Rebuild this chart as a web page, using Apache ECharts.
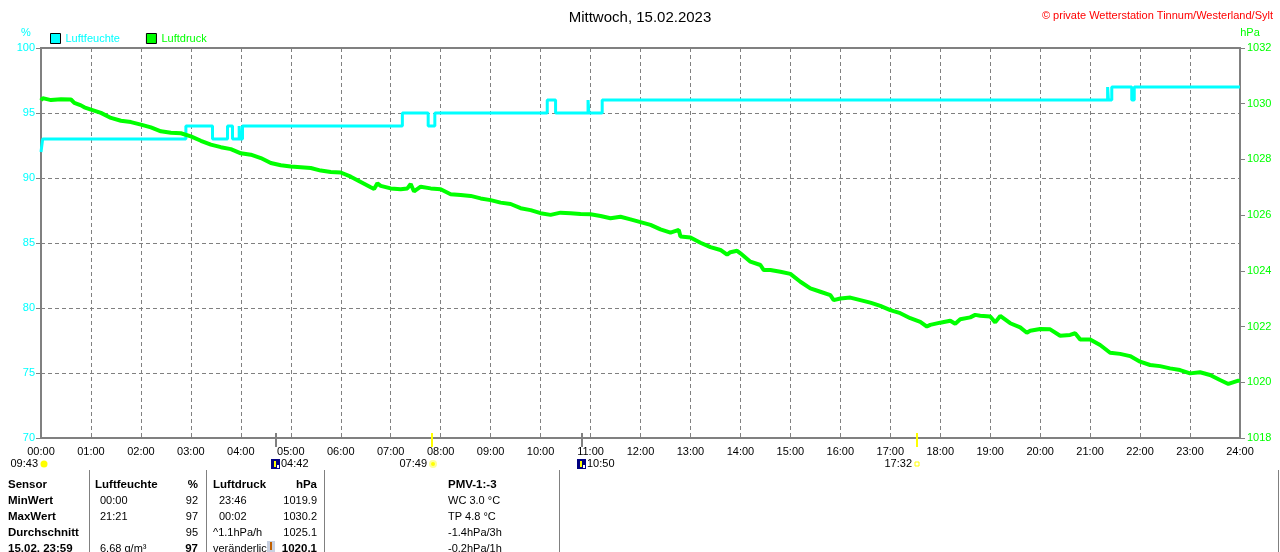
<!DOCTYPE html>
<html>
<head>
<meta charset="utf-8">
<script src="https://cdn.jsdelivr.net/npm/echarts@6/dist/echarts.min.js"></script>
<style>
    html, body { margin: 0; padding: 0; background: #fff; }
    #chart { width: 1280px; height: 552px; }
</style>
</head>
<body>
<div id="chart"></div>
<script>

    // Zeitachse (Minuten seit 00:00) und Beschriftung
    var hourLabels = [
        '00:00', '01:00', '02:00', '03:00', '04:00', '05:00', '06:00', '07:00',
        '08:00', '09:00', '10:00', '11:00', '12:00', '13:00', '14:00', '15:00',
        '16:00', '17:00', '18:00', '19:00', '20:00', '21:00', '22:00', '23:00', '24:00'
    ];

    // Luftfeuchte (%), Stufenverlauf: Wert gilt bis zum naechsten Zeitpunkt
    var humidityMinutes = [0, 2, 174, 206, 224, 230, 238, 239, 242, 434, 465, 473,
        608, 618, 657, 658, 674, 1281, 1282, 1286, 1310, 1313, 1440];
    var humidityValues = [92, 93, 94, 93, 94, 93, 94, 93, 94, 95, 94, 95,
        96, 95, 96, 95, 96, 97, 96, 97, 96, 97, 97];

    // Luftdruck (hPa)
    var pressureMinutes = [
        0, 2, 12, 24, 36, 40, 48, 52, 60, 72, 84, 96, 108, 120, 132, 144, 156, 168,
        180, 192, 204, 216, 228, 240, 252, 264, 276, 288, 300, 312, 324, 336, 348,
        360, 372, 384, 396, 400, 404, 408, 420, 432, 440, 444, 448, 456, 468, 480,
        492, 504, 516, 528, 540, 552, 564, 576, 588, 600, 612, 624, 636, 648, 660,
        672, 684, 696, 708, 720, 732, 744, 756, 766, 768, 780, 792, 804, 816, 824,
        828, 836, 840, 852, 864, 868, 876, 888, 900, 912, 924, 936, 948, 952, 960,
        972, 984, 996, 1008, 1020, 1032, 1044, 1056, 1064, 1068, 1080, 1092, 1098,
        1104, 1116, 1122, 1128, 1140, 1146, 1152, 1164, 1176, 1184, 1188, 1200,
        1212, 1224, 1236, 1242, 1248, 1260, 1272, 1284, 1296, 1308, 1320, 1332,
        1344, 1356, 1368, 1380, 1392, 1404, 1416, 1426, 1428, 1438, 1440
    ];
    var pressureValues = [
        1030.12, 1030.20, 1030.13, 1030.16, 1030.15, 1030.03, 1029.94, 1029.87,
        1029.79, 1029.67, 1029.49, 1029.39, 1029.34, 1029.25, 1029.15, 1029.01,
        1028.96, 1028.94, 1028.83, 1028.67, 1028.53, 1028.44, 1028.37, 1028.22,
        1028.17, 1028.05, 1027.87, 1027.79, 1027.75, 1027.72, 1027.69, 1027.60,
        1027.55, 1027.53, 1027.38, 1027.19, 1027.00, 1026.94, 1027.14, 1027.05,
        1026.96, 1026.93, 1026.96, 1027.12, 1026.85, 1027.02, 1026.96, 1026.93,
        1026.75, 1026.72, 1026.69, 1026.60, 1026.54, 1026.45, 1026.40, 1026.25,
        1026.18, 1026.07, 1026.01, 1026.09, 1026.07, 1026.04, 1026.03, 1025.97,
        1025.89, 1025.94, 1025.85, 1025.75, 1025.65, 1025.49, 1025.37, 1025.47,
        1025.23, 1025.20, 1025.01, 1024.85, 1024.75, 1024.58, 1024.67, 1024.72,
        1024.63, 1024.33, 1024.21, 1024.03, 1024.03, 1023.97, 1023.89, 1023.61,
        1023.37, 1023.25, 1023.13, 1022.95, 1023.01, 1023.04, 1022.95, 1022.86,
        1022.74, 1022.59, 1022.48, 1022.30, 1022.17, 1022.00, 1022.06, 1022.14,
        1022.21, 1022.10, 1022.26, 1022.33, 1022.42, 1022.39, 1022.36, 1022.15,
        1022.38, 1022.12, 1021.97, 1021.78, 1021.85, 1021.91, 1021.90, 1021.67,
        1021.70, 1021.76, 1021.54, 1021.54, 1021.34, 1021.06, 1021.02, 1020.94,
        1020.74, 1020.62, 1020.58, 1020.50, 1020.44, 1020.32, 1020.36, 1020.26,
        1020.08, 1019.94, 1019.99, 1020.06, 1020.05
    ];

    // Mond-/Sonnenereignisse unter der Zeitachse
    var eventMinutes = [282, 469, 650, 1052];
    var eventLabels = ['04:42', '07:49', '10:50', '17:32'];
    var eventKinds = ['moonrise', 'sunrise', 'moonset', 'sunset'];

    // Tabelle
    var tableHead = ['Sensor', 'Luftfeuchte', '%', 'Luftdruck', 'hPa', 'PMV-1:-3'];
    var rowLabels = ['MinWert', 'MaxWert', 'Durchschnitt', '15.02. 23:59'];
    var humTimes = ['00:00', '21:21', '', '6.68 g/m\u00b3'];
    var humVals = ['92', '97', '95', '97'];
    var presTimes = ['23:46', '00:02', '^1.1hPa/h', 'ver\u00e4nderlich'];
    var presVals = ['1019.9', '1030.2', '1025.1', '1020.1'];
    var pmvVals = ['WC 3.0 \u00b0C', 'TP 4.8 \u00b0C', '-1.4hPa/3h', '-0.2hPa/1h'];

    var FONT = 'Liberation Sans, Arial, sans-serif';
    var CYAN = '#00ffff';
    var GREEN = '#00ff00';
    var GRAY = '#808080';

    var chart = echarts.init(document.getElementById('chart'));

    function zip(xs, ys) {
        return xs.map(function (x, i) {
            return [x, ys[i]];
        });
    }

    var option = {
        animation: false,
        backgroundColor: '#fff',
        textStyle: {fontFamily: FONT},
        title: [
            {
                text: 'Mittwoch, 15.02.2023',
                left: 'center',
                top: 5,
                textStyle: {fontSize: 15, fontWeight: 'normal', color: '#000', fontFamily: FONT}
            },
            {
                text: '\u00a9 private Wetterstation Tinnum/Westerland/Sylt',
                right: 2,
                top: 5,
                textStyle: {fontSize: 11, fontWeight: 'normal', color: '#ff0000', fontFamily: FONT}
            }
        ],
        legend: {
            left: 45,
            top: 28,
            icon: 'rect',
            itemWidth: 10,
            itemHeight: 10,
            itemGap: 26,
            itemStyle: {borderColor: '#000', borderWidth: 1},
            data: [
                {name: 'Luftfeuchte', textStyle: {color: CYAN, fontSize: 11, fontFamily: FONT}},
                {name: 'Luftdruck', textStyle: {color: GREEN, fontSize: 11, fontFamily: FONT}}
            ]
        },
        grid: {
            left: 41,
            right: 40,
            top: 48,
            bottom: 114,
            show: true,
            borderColor: GRAY,
            borderWidth: 2
        },
        xAxis: {
            type: 'value',
            min: 0,
            max: 1440,
            interval: 60,
            axisLine: {show: true, lineStyle: {color: GRAY, width: 2}},
            axisTick: {show: false},
            axisLabel: {
                color: '#000',
                fontSize: 11,
                fontFamily: FONT,
                margin: 8,
                showMinLabel: true,
                showMaxLabel: true,
                formatter: function (v) {
                    return hourLabels[Math.round(v / 60)];
                }
            },
            splitLine: {show: true, lineStyle: {color: GRAY, type: [4, 3], width: 1}}
        },
        yAxis: [
            {
                type: 'value',
                position: 'left',
                min: 70,
                max: 100,
                interval: 5,
                axisLine: {show: true, lineStyle: {color: GRAY, width: 2}},
                axisTick: {show: true, length: 5, lineStyle: {color: GRAY}},
                axisLabel: {color: CYAN, fontSize: 11, fontFamily: FONT, margin: 6},
                splitLine: {show: true, lineStyle: {color: GRAY, type: [4, 3], width: 1}}
            },
            {
                type: 'value',
                position: 'right',
                min: 1018,
                max: 1032,
                interval: 2,
                axisLine: {show: true, lineStyle: {color: GRAY, width: 2}},
                axisTick: {show: true, length: 5, lineStyle: {color: GRAY}},
                axisLabel: {
                    color: GREEN,
                    fontSize: 11,
                    fontFamily: FONT,
                    margin: 7,
                    formatter: function (v) {
                        return String(v);
                    }
                },
                splitLine: {show: false}
            }
        ],
        series: [
            {
                name: 'Luftfeuchte',
                type: 'line',
                yAxisIndex: 0,
                step: 'end',
                symbol: 'none',
                itemStyle: {color: CYAN},
                lineStyle: {color: CYAN, width: 3},
                data: zip(humidityMinutes, humidityValues)
            },
            {
                name: 'Luftdruck',
                type: 'line',
                yAxisIndex: 1,
                symbol: 'none',
                itemStyle: {color: GREEN},
                lineStyle: {color: GREEN, width: 4},
                data: zip(pressureMinutes, pressureValues)
            }
        ]
    };

    chart.setOption(option);


    /**
     * Textelement fuer graphic
     */
    function text(x, y, str, color, align, bold) {
        return {
            type: 'text',
            x: x,
            y: y,
            silent: true,
            style: {
                text: str,
                fill: color || '#000',
                align: align || 'left',
                verticalAlign: 'middle',
                font: (bold ? 'bold 11.5px ' : '11px ') + FONT
            }
        };
    }

    function rect(x, y, w, h, fill, stroke) {
        return {
            type: 'rect',
            silent: true,
            shape: {x: x, y: y, width: w, height: h},
            style: {fill: fill || 'none', stroke: stroke || null, lineWidth: 1}
        };
    }

    var elements = [];

    // Achsen-Einheiten
    elements.push(text(26, 33, '%', CYAN, 'center'));
    elements.push(text(1250, 33, 'hPa', GREEN, 'center'));

    // Sonnenscheindauer
    elements.push(text(38, 464, '09:43', '#000', 'right'));
    elements.push({
        type: 'circle', silent: true,
        shape: {cx: 44, cy: 464, r: 3.5},
        style: {fill: '#ffff00'}
    });

    // Ereignisse mit Markierung auf der Achse
    var axisY = chart.convertToPixel({yAxisIndex: 0}, 70);
    eventMinutes.forEach(function (m, i) {
        var x = Math.round(chart.convertToPixel({xAxisIndex: 0}, m));
        var kind = eventKinds[i];
        var isSun = kind === 'sunrise' || kind === 'sunset';
        elements.push({
            type: 'line', silent: true, z: 10,
            shape: {x1: x, y1: axisY - 5, x2: x, y2: axisY + 9},
            style: {stroke: isSun ? '#ffff00' : GRAY, lineWidth: 2}
        });
        if (isSun) {
            elements.push(text(x - 5, 464, eventLabels[i], '#000', 'right'));
            if (kind === 'sunrise') {
                elements.push({
                    type: 'circle', silent: true,
                    shape: {cx: x + 1, cy: 464, r: 3},
                    style: {fill: '#ffff00', stroke: '#ffff99', lineWidth: 2}
                });
            }
            else {
                elements.push(rect(x - 2, 462, 4, 4, '#fff', '#ffff00'));
            }
        }
        else {
            elements.push(rect(x - 5, 459, 9, 10, '#000080'));
            elements.push(rect(x - 2, 461, 2, 6, '#ffff00'));
            elements.push(rect(x + 1, 465, 2, 3, '#ffffff'));
            elements.push(text(x + 5, 464, eventLabels[i], '#000', 'left'));
        }
    });

    // Tabelle
    [89, 206, 324, 559, 1278].forEach(function (x) {
        elements.push({
            type: 'line', silent: true,
            shape: {x1: x + 0.5, y1: 470, x2: x + 0.5, y2: 552},
            style: {stroke: GRAY, lineWidth: 1}
        });
    });

    var rowY = [485, 501, 517, 533, 549];
    elements.push(text(8, rowY[0], tableHead[0], '#000', 'left', true));
    elements.push(text(95, rowY[0], tableHead[1], '#000', 'left', true));
    elements.push(text(198, rowY[0], tableHead[2], '#000', 'right', true));
    elements.push(text(213, rowY[0], tableHead[3], '#000', 'left', true));
    elements.push(text(317, rowY[0], tableHead[4], '#000', 'right', true));
    elements.push(text(448, rowY[0], tableHead[5], '#000', 'left', true));

    rowLabels.forEach(function (label, i) {
        var y = rowY[i + 1];
        var last = i === rowLabels.length - 1;
        elements.push(text(8, y, label, '#000', 'left', true));
        elements.push(text(100, y, humTimes[i], '#000', 'left'));
        elements.push(text(198, y, humVals[i], '#000', 'right', last));
        elements.push(text(i < 2 ? 219 : 213, y, presTimes[i], '#000', 'left'));
        elements.push(text(317, y, presVals[i], '#000', 'right', last));
        elements.push(text(448, y, pmvVals[i], '#000', 'left'));
    });

    // Tendenzpfeil
    elements.push(rect(267, 541, 8, 11, '#c8d0e0'));
    elements.push(rect(270, 542, 2, 8, '#c06000'));

    chart.setOption({graphic: elements});

</script>
</body>
</html>
